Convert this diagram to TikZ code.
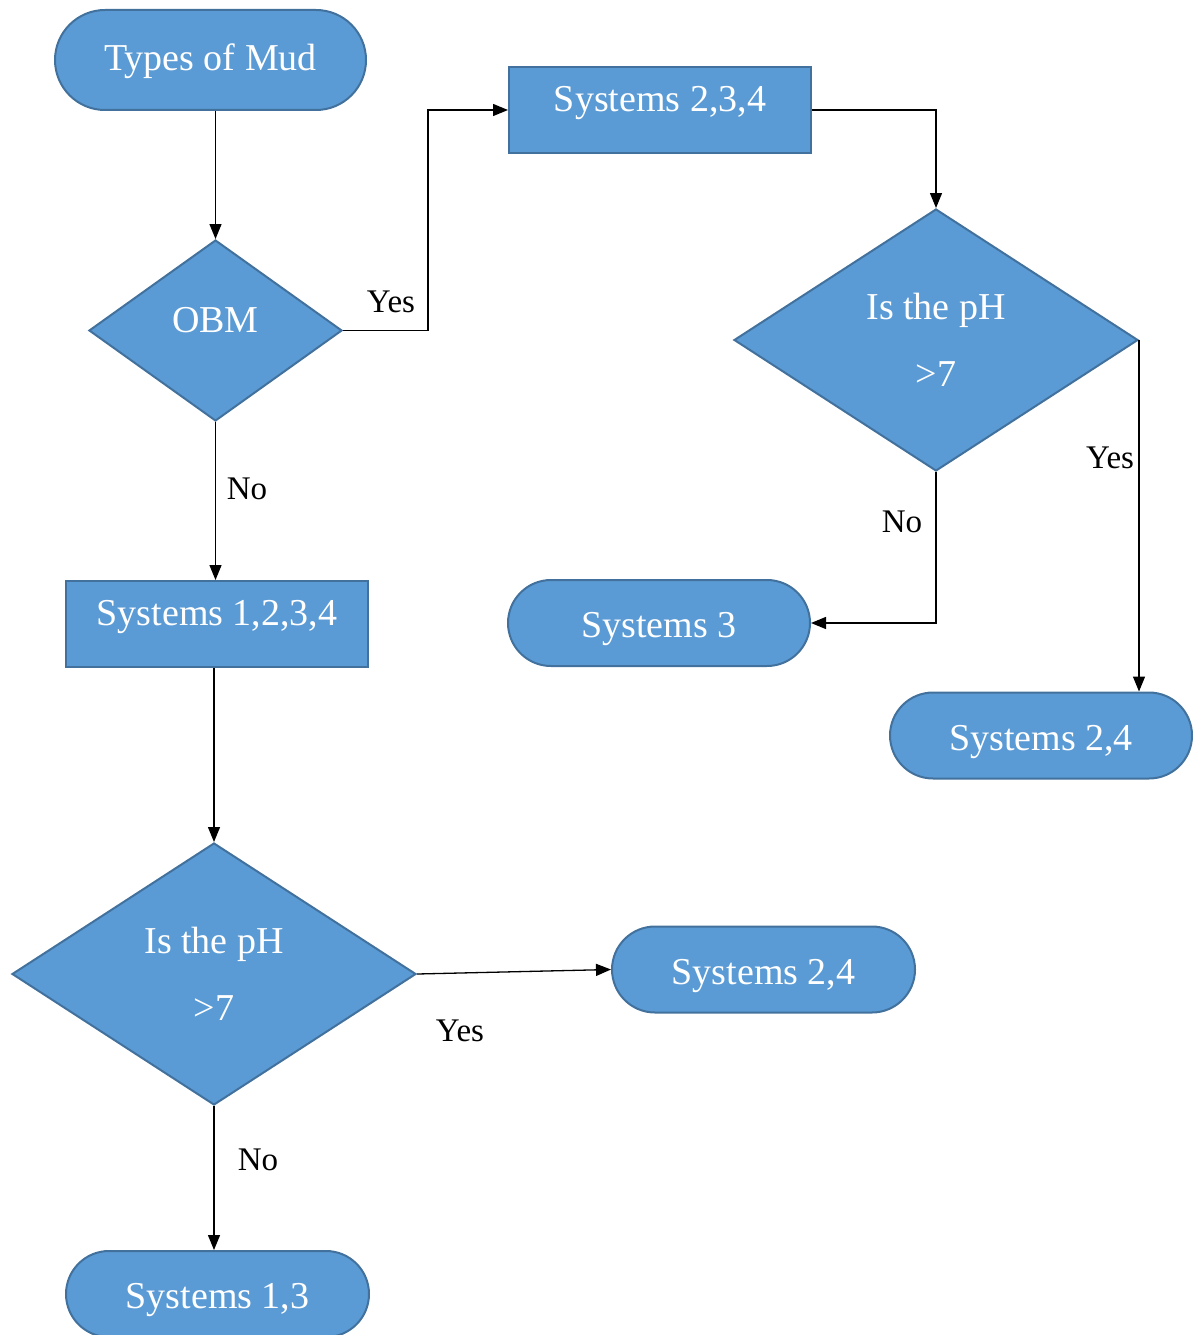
\documentclass[tikz,border=0pt]{standalone}
\usepackage{fontspec}
\setmainfont{Liberation Serif}
\usetikzlibrary{shapes.geometric,shapes.misc,arrows.meta}
\definecolor{boxfill}{HTML}{5B9BD5}
\definecolor{boxline}{HTML}{41719C}
\begin{document}
\begin{tikzpicture}[x=1pt,y=-1pt,
  base/.style={fill=boxfill,draw=boxline,line width=2pt,text=white,
    font=\fontsize{38}{46}\selectfont,inner sep=0pt},
  term/.style={base,rounded rectangle,minimum width=#1,minimum height=86,
    text height=37pt,text depth=8pt},
  term/.default=302,
  procbox/.style={base,rectangle,minimum width=302,minimum height=86,text depth=22pt},
  decision/.style={base,diamond,align=center},
  conn/.style={line width=1.3pt,-{Triangle[length=15pt,width=12pt]}},
  lbl/.style={font=\fontsize{33}{39}\selectfont,inner sep=0pt}]
\useasboundingbox (0,0) rectangle (1193,1335);

% nodes
\node[term=311,minimum height=100,text height=29pt] (mud) at (210.5,60) {Types of Mud};
\node[decision,minimum width=253,minimum height=181,text depth=22pt] (obm) at (215.5,330.5) {OBM};
\node[procbox] (s234) at (660,110) {Systems 2,3,4};
\node[decision,minimum width=404,minimum height=262] (ph1) at (936,340) {Is the pH\\[21pt]>7};
\node[procbox] (s1234) at (217,624) {Systems 1,2,3,4};
\node[term] (s3) at (659,623) {Systems 3};
\node[term] (s24a) at (1041,735.5) {Systems 2,4};
\node[decision,minimum width=404,minimum height=262] (ph2) at (214,974) {Is the pH\\[21pt]>7};
\node[term=303] (s24b) at (763.5,969.5) {Systems 2,4};
\node[term=303] (s13) at (217.5,1294) {Systems 1,3};

% connectors
\draw[conn] (mud.south -| obm.north) -- (obm.north);
\draw[conn] (obm.east) -- ++(85,0) |- (s234.west);
\draw[conn] (obm.south) -- (obm.south |- s1234.north);
\draw[conn] (s234.east) -| (ph1.north);
\draw[conn] (ph1.south) |- (s3.east);
\draw[conn] (ph1.east) -- (ph1.east |- s24a.north);
\draw[conn] (s1234.south -| ph2.north) -- (ph2.north);
\draw[conn] (ph2.east) -- (s24b.west);
\draw[conn] (ph2.south) -- (ph2.south |- s13.north);

% branch labels
\node[lbl] (l1) at (391,302) {Yes};
\node[lbl] (l2) at (247,489) {No};
\node[lbl] (l3) at (902,522) {No};
\node[lbl] (l4) at (1110,458) {Yes};
\node[lbl] (l5) at (460,1031) {Yes};
\node[lbl] (l6) at (258,1160) {No};
\end{tikzpicture}
\end{document}
